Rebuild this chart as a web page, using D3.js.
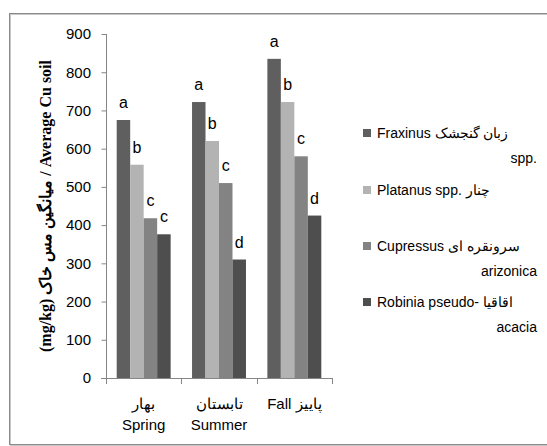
<!DOCTYPE html>
<html><head><meta charset="utf-8">
<script src="https://cdn.jsdelivr.net/npm/d3@7"></script>
<style>
body{margin:0;background:#fff;}
svg{display:block;}
text{font-family:"Liberation Sans",Arial,sans-serif;fill:#000;}
</style></head>
<body>
<script>
const seasonsFa = ["بهار", "تابستان", "Fall پاییز"];
const seasonsEn = ["Spring", "Summer", ""];
const seriesNames = ["Fraxinus", "Platanus", "Cupressus", "Robinia"];
const fraxinus = [675, 722, 835];
const platanus = [558, 620, 722];
const cupressus = [418, 510, 580];
const robinia = [376, 310, 425];
const letters = [["a","a","a"],["b","b","b"],["c","c","c"],["c","d","d"]];
const yTicks = [0,100,200,300,400,500,600,700,800,900];
const legendLine1 = ["Fraxinus  زبان گنجشک", "Platanus spp. چنار", "Cupressus  سرونقره ای", "Robinia pseudo- اقاقیا"];
const legendLine2 = ["spp.", "", "arizonica", "acacia"];
const yTitle = "(mg/kg) میانگین مس خاک / Average Cu soil";

const colors = ["#5f5f5f", "#b3b3b3", "#838383", "#4e4e4e"];
const values = [fraxinus, platanus, cupressus, robinia];

const W = 547, H = 446;
const svg = d3.select("body").append("svg").attr("width", W).attr("height", H);

// frame
svg.append("rect").attr("x", 10.5).attr("y", 14.5).attr("width", 560).attr("height", 431)
  .attr("fill", "none").attr("stroke", "#c8c8c8").attr("stroke-width", 1);
svg.append("rect").attr("x", 9.5).attr("y", 13.5).attr("width", 560).attr("height", 431)
  .attr("fill", "none").attr("stroke", "#8a8a8a").attr("stroke-width", 1);

const x0 = d3.scaleBand().domain(d3.range(seasonsFa.length)).range([106, 332]).padding(0);
const bw = x0.bandwidth();
const x1 = d3.scaleBand().domain(d3.range(seriesNames.length)).range([10.7, bw - 10.7]).padding(0);
const y = d3.scaleLinear().domain([0, 900]).range([378, 34]);

// y axis
const yAxis = svg.append("g").attr("transform", "translate(106,0)")
  .call(d3.axisLeft(y).tickValues(yTicks).tickSize(5).tickPadding(10).tickFormat(d3.format("d")));
yAxis.select(".domain").attr("stroke", "#868686").attr("d", "M0.5,34V378");
yAxis.selectAll(".tick line").attr("stroke", "#868686").attr("transform", "translate(0.5,0)");
yAxis.selectAll(".tick text").attr("font-size", 15).style("font-family", "Liberation Sans, Arial, sans-serif").attr("fill", "#000");

// bars
seriesNames.forEach((s, si) => {
  const g = svg.append("g");
  g.selectAll("rect").data(values[si]).join("rect")
    .attr("x", (d, i) => x0(i) + x1(si))
    .attr("y", d => y(d))
    .attr("width", x1.bandwidth())
    .attr("height", d => y(0) - y(d))
    .attr("fill", colors[si]);
  g.selectAll("text").data(values[si]).join("text")
    .attr("x", (d, i) => x0(i) + x1(si) + x1.bandwidth() / 2)
    .attr("y", d => y(d) - 12)
    .attr("text-anchor", "middle")
    .attr("font-size", 16)
    .text((d, i) => letters[si][i]);
});

// x axis
const xAxisG = svg.append("g").attr("transform", "translate(0,378)");
xAxisG.append("line").attr("x1", 101).attr("x2", 332).attr("y1", 0.5).attr("y2", 0.5).attr("stroke", "#868686");
const bounds = d3.range(seasonsFa.length + 1).map(i => i < seasonsFa.length ? x0(i) : x0(i - 1) + bw);
xAxisG.selectAll(".xt").data(bounds).join("line").attr("class", "xt")
  .attr("x1", d => Math.round(d) + 0.5).attr("x2", d => Math.round(d) + 0.5)
  .attr("y1", 0).attr("y2", 6).attr("stroke", "#868686");
seasonsFa.forEach((s, i) => {
  const cx = x0(i) + bw / 2;
  xAxisG.append("text").attr("x", cx).attr("y", 31).attr("text-anchor", "middle")
    .attr("font-size", 15).text(s);
  if (seasonsEn[i]) xAxisG.append("text").attr("x", cx).attr("y", 52).attr("text-anchor", "middle")
    .attr("font-size", 15).text(seasonsEn[i]);
});

// y title
svg.append("text").attr("transform", "translate(51,206) rotate(-90)")
  .attr("text-anchor", "middle").attr("font-size", 16).attr("font-weight", "bold")
  .style("font-family", "'Liberation Serif', 'Times New Roman', serif")
  .text(yTitle);

// legend
const legY = [133, 190, 246, 302];
seriesNames.forEach((s, i) => {
  const g = svg.append("g");
  g.append("rect").attr("x", 363).attr("y", legY[i] - 4).attr("width", 8).attr("height", 8).attr("fill", colors[i]);
  g.append("text").attr("x", 377).attr("y", legY[i] + 5).attr("font-size", 14).text(legendLine1[i]);
  if (legendLine2[i]) g.append("text").attr("x", 537).attr("y", legY[i] + 30).attr("text-anchor", "end")
    .attr("font-size", 14).text(legendLine2[i]);
});
</script>
</body></html>
